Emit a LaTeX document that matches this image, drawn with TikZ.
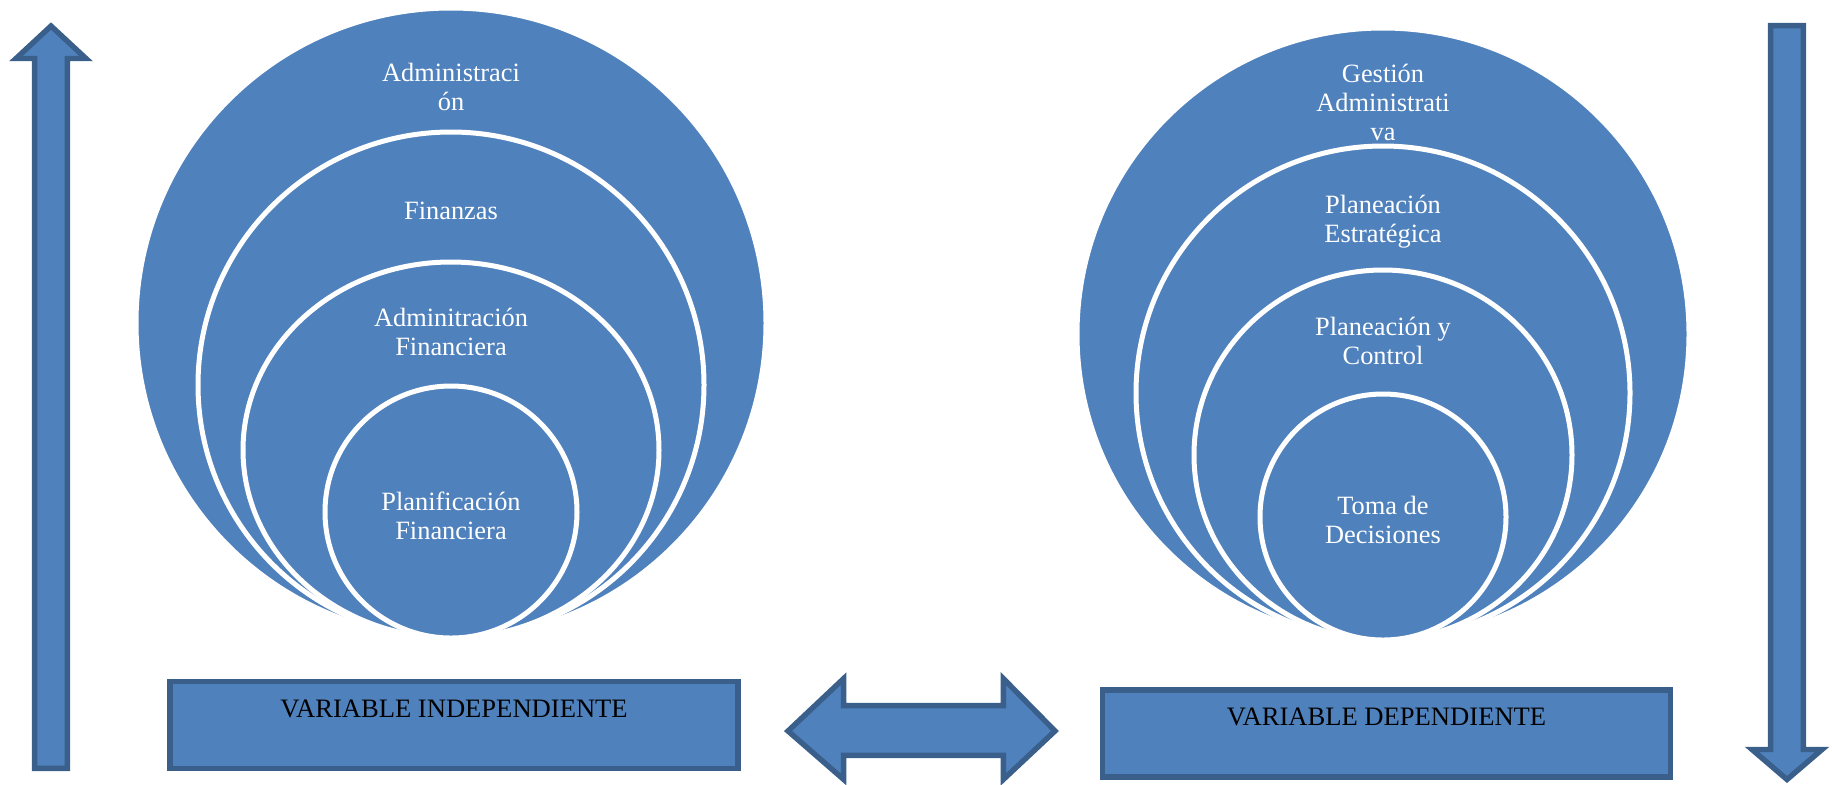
\documentclass[tikz,border=0pt]{standalone}
\usepackage{fontspec}
\setmainfont{Liberation Serif}
\usetikzlibrary{positioning}

\definecolor{ringblue}{HTML}{4F81BD}
\definecolor{edgeblue}{HTML}{3A5F8B}

\begin{document}
\begin{tikzpicture}[x=0.5pt, y=-0.5pt,
    ring/.style={fill=ringblue, draw=white, line width=2.5pt},
    ringtext/.style={text=white, align=center, font=\fontsize{13.2}{14.5}\selectfont},
    varbox/.style={draw=edgeblue, fill=ringblue, line width=2.7pt, minimum width=284pt, minimum height=43.5pt, inner sep=0pt},
    boxtext/.style={font=\fontsize{13.3}{14.5}\selectfont, text=black},
    blockarrow/.style={draw=edgeblue, fill=ringblue, line width=2.7pt, line join=miter}
]

% Page frame, same proportions as the picture
\useasboundingbox (0,0) rectangle (1832,784);

% Centre lines of the two ring stacks
\def\leftX{451}
\def\rightX{1383}

% Left rings (all touch at the bottom)
\draw[ring] (\leftX,323) circle[radius=157.5pt];
\draw[ring] (\leftX,385) circle[radius=126.5pt];
\draw[ring] (\leftX,450) ellipse[x radius=104pt, y radius=94pt];
\draw[ring] (\leftX,512) circle[radius=63pt];

\node[ringtext] (admin)   at (\leftX,87)  {Administraci\\ón};
\node[ringtext] (finanzas) at (\leftX,211) {Finanzas};
\node[ringtext] (adminfin) at (\leftX,332) {Adminitración\\Financiera};
\node[ringtext] (planfin)  at (\leftX,516) {Planificación\\Financiera};

% Right rings
\draw[ring] (\rightX,334) circle[radius=153pt];
\draw[ring] (\rightX,393) circle[radius=123.5pt];
\draw[ring] (\rightX,455) ellipse[x radius=94.5pt, y radius=92.5pt];
\draw[ring] (\rightX,517) circle[radius=61.5pt];

\node[ringtext] (gestion)   at (\rightX,102) {Gestión\\Administrati\\va};
\node[ringtext] (planest)   at (\rightX,222) {Planeación\\Estratégica};
\node[ringtext] (plancontr) at (\rightX,341) {Planeación y\\Control};
\node[ringtext] (decision)  at (\rightX,520) {Toma de\\Decisiones};

% Variable boxes
\node[varbox] (indep) at (454,725) {};
\node[boxtext] (indeplabel) at ([yshift=-15pt]indep.north) {VARIABLE INDEPENDIENTE};

\node[varbox] (dep) at (1386.5,733.5) {};
\node[boxtext] (deplabel) at ([yshift=-15pt]dep.north) {VARIABLE DEPENDIENTE};

% Up arrow on the left
\draw[blockarrow] (34.6,768.4) -- (34.6,58.5) -- (16,58.5) -- (51,26) -- (86,58.5)
    -- (67.4,58.5) -- (67.4,768.4) -- cycle;

% Down arrow on the right
\draw[blockarrow] (1770.6,25.6) -- (1770.6,749.5) -- (1752,749.5) -- (1787,779.5)
    -- (1822,749.5) -- (1803.4,749.5) -- (1803.4,25.6) -- cycle;

% Double arrow between the boxes
\draw[blockarrow] (788,731) -- (843.6,678.6) -- (843.6,705.6) -- (1003.4,705.6)
    -- (1003.4,678.6) -- (1055,731) -- (1003.4,779.4) -- (1003.4,755.4)
    -- (843.6,755.4) -- (843.6,779.4) -- cycle;

\end{tikzpicture}
\end{document}
